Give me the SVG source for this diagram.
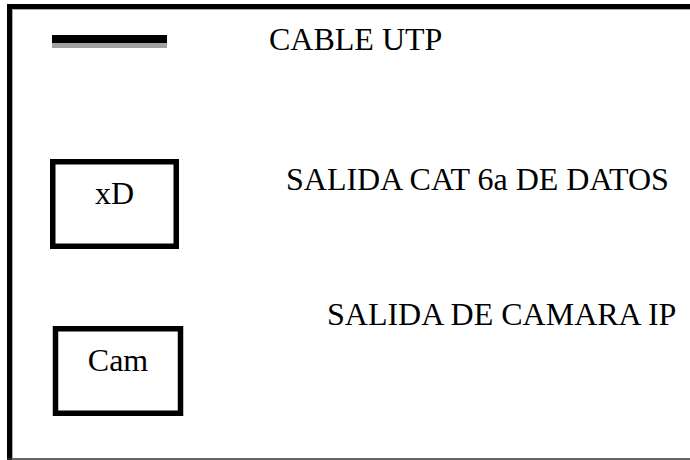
<svg xmlns="http://www.w3.org/2000/svg" width="690" height="460" viewBox="0 0 690 460">
<style>
.t{font-family:"Liberation Serif","DejaVu Serif",serif;font-size:32px;fill:#000}
.box{fill:#fff;stroke:#000;stroke-width:5.5}
</style>
<rect width="690" height="460" fill="#fff"/>
<g id="frame">
<line x1="7" y1="6.5" x2="690" y2="6.5" stroke="#000" stroke-width="5"/>
<line x1="12" y1="9.5" x2="690" y2="9.5" stroke="#aaa" stroke-width="1"/>
<line x1="9.5" y1="4" x2="9.5" y2="460" stroke="#000" stroke-width="5"/>
<line x1="12.5" y1="9" x2="12.5" y2="458" stroke="#aaa" stroke-width="1"/>
<line x1="7" y1="459" x2="690" y2="459" stroke="#333" stroke-width="1.3"/>
</g>
<g id="legend-cable">
<rect x="52" y="35" width="115" height="8" fill="#000"/>
<rect x="52" y="43" width="115" height="5" fill="#a0a0a0"/>
<text class="t" x="269" y="50">CABLE UTP</text>
</g>
<g id="node-xD">
<rect class="box" x="52.75" y="161.75" width="123.5" height="84.5"/>
<text class="t" x="114.5" y="204" text-anchor="middle">xD</text>
</g>
<g id="label-datos">
<text class="t" x="286" y="190">SALIDA CAT 6a DE DATOS</text>
</g>
<g id="node-cam">
<rect class="box" x="55.5" y="328.75" width="125" height="84.5"/>
<text class="t" x="118" y="371" text-anchor="middle">Cam</text>
</g>
<g id="label-camara">
<text class="t" x="327" y="325">SALIDA DE CAMARA IP</text>
</g>
<g id="connectors"></g>
</svg>
